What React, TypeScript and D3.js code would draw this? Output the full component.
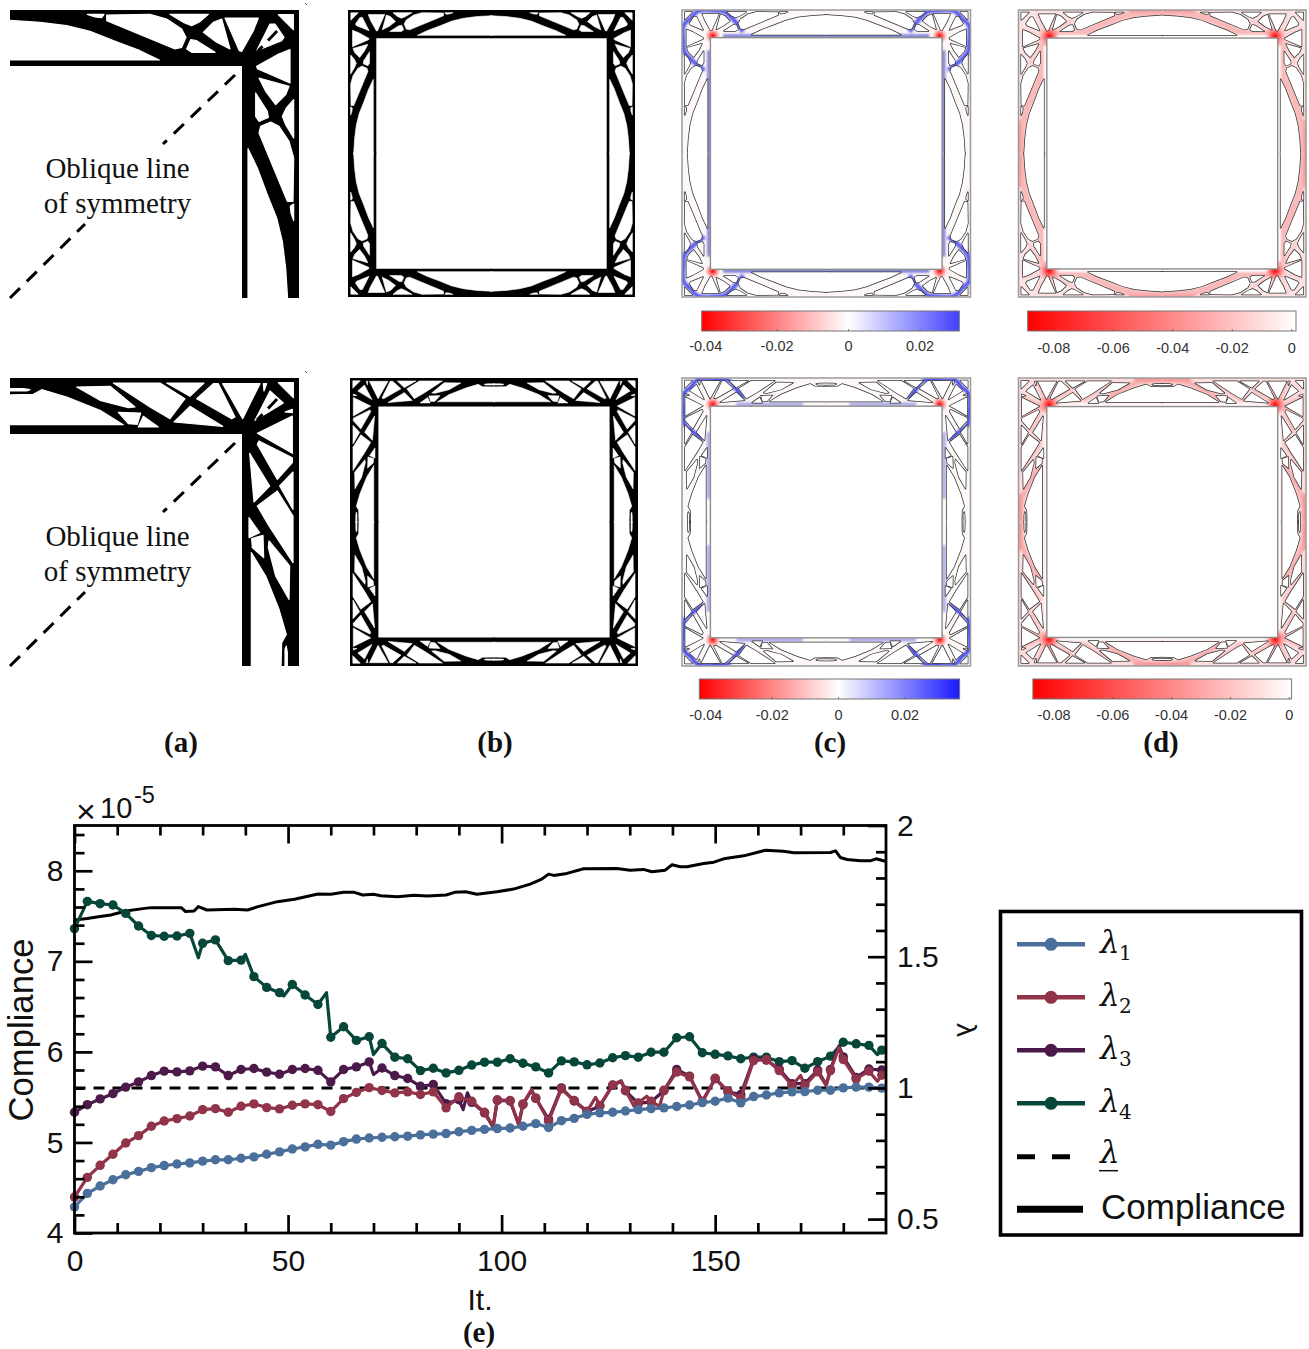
import React, { useEffect, useRef } from 'react';
import * as d3 from 'd3';

// ---- convergence history (e) ----
const markerIters = d3.range(0, 190, 3);
const lambda1 = [0.546, 0.598, 0.626, 0.65, 0.669, 0.682, 0.696, 0.704, 0.71, 0.714, 0.721, 0.726, 0.726, 0.732, 0.737, 0.747, 0.756, 0.767, 0.775, 0.785, 0.782, 0.795, 0.805, 0.809, 0.812, 0.814, 0.816, 0.821, 0.824, 0.826, 0.833, 0.838, 0.842, 0.845, 0.847, 0.854, 0.864, 0.849, 0.875, 0.884, 0.899, 0.905, 0.907, 0.912, 0.917, 0.921, 0.924, 0.929, 0.935, 0.944, 0.949, 0.961, 0.943, 0.967, 0.973, 0.981, 0.985, 0.986, 0.991, 0.991, 1.0, 1.003, 1.003, 0.999];
const lambda2 = [0.584, 0.659, 0.705, 0.747, 0.79, 0.818, 0.854, 0.874, 0.883, 0.893, 0.917, 0.921, 0.907, 0.93, 0.939, 0.925, 0.92, 0.934, 0.939, 0.936, 0.91, 0.959, 0.983, 1.001, 0.99, 0.981, 0.985, 0.975, 0.985, 0.924, 0.966, 0.949, 0.907, 0.955, 0.952, 0.939, 0.962, 0.873, 0.996, 0.952, 0.911, 0.933, 1.011, 0.991, 0.943, 0.949, 0.991, 1.06, 1.042, 0.949, 1.037, 0.987, 0.962, 1.104, 1.108, 1.066, 1.009, 1.009, 1.061, 1.066, 1.108, 1.034, 1.064, 1.048];
const lambda3 = [0.907, 0.936, 0.958, 0.978, 1.003, 1.023, 1.047, 1.064, 1.061, 1.065, 1.083, 1.08, 1.047, 1.07, 1.074, 1.06, 1.052, 1.07, 1.074, 1.067, 1.023, 1.07, 1.08, 1.099, 1.076, 1.047, 1.036, 1.006, 1.013, 0.94, 0.955, 0.945, 0.905, 0.952, 0.95, 0.937, 0.96, 0.88, 1.0, 0.95, 0.909, 0.931, 1.01, 0.989, 0.941, 0.947, 0.989, 1.07, 1.045, 0.947, 1.035, 0.985, 0.975, 1.11, 1.106, 1.072, 1.016, 1.016, 1.068, 1.07, 1.118, 1.04, 1.072, 1.068];
const lambda4 = [1.607, 1.711, 1.702, 1.697, 1.665, 1.617, 1.581, 1.578, 1.579, 1.589, 1.551, 1.564, 1.485, 1.487, 1.424, 1.383, 1.363, 1.394, 1.354, 1.318, 1.193, 1.233, 1.181, 1.195, 1.169, 1.117, 1.111, 1.066, 1.075, 1.057, 1.067, 1.087, 1.098, 1.098, 1.111, 1.094, 1.08, 1.057, 1.103, 1.099, 1.088, 1.095, 1.115, 1.123, 1.117, 1.136, 1.136, 1.191, 1.195, 1.134, 1.128, 1.122, 1.111, 1.117, 1.117, 1.1, 1.104, 1.075, 1.1, 1.121, 1.174, 1.168, 1.162, 1.144];
// spikes between the markers, [iteration, lambda]
const lambda2Spikes = [[98, 0.854], [104, 0.863], [107, 0.994], [122, 0.964], [128, 1.028], [131, 0.93], [134, 0.968], [137, 0.93], [170, 1.047], [176, 1.009], [179, 1.153], [188, 1.025]];
const lambda3Spikes = [[70, 1.051], [91, 0.917], [92, 0.981], [98, 0.85], [104, 0.86], [107, 0.99], [128, 1.024], [176, 1.012], [179, 1.16]];
const lambda4Spikes = [[29, 1.496], [40, 1.509], [49, 1.35], [59, 1.363], [70, 1.127], [188, 1.127]];
const lambdaBar = 1;
const complianceIters = [0, 3, 6, 8.5, 12, 16, 18, 22, 25, 26, 28, 29, 31, 37.5, 40.5, 43, 47.5, 51.5, 57, 60, 63, 65.5, 67.5, 70, 71.7, 75.6, 79.5, 82.6, 87, 89, 91.6, 94.2, 98.9, 102.8, 106.7, 109.4, 111, 112.2, 115.3, 119.2, 127, 130.1, 133.2, 135.2, 138.3, 139.9, 141.8, 143.4, 147.3, 149.7, 152, 156.7, 161.8, 166, 168.4, 177, 178.2, 179.3, 180.9, 184, 186.3, 187.7, 189.8];
const compliance = [7.457, 7.472, 7.494, 7.512, 7.556, 7.582, 7.593, 7.593, 7.593, 7.549, 7.556, 7.604, 7.567, 7.575, 7.567, 7.604, 7.659, 7.685, 7.743, 7.74, 7.762, 7.762, 7.732, 7.74, 7.725, 7.714, 7.729, 7.721, 7.732, 7.762, 7.769, 7.74, 7.769, 7.798, 7.853, 7.908, 7.963, 7.949, 7.971, 8.022, 8.026, 8.007, 8.015, 7.989, 8.007, 8.066, 8.044, 8.044, 8.081, 8.095, 8.132, 8.165, 8.227, 8.216, 8.198, 8.202, 8.22, 8.147, 8.125, 8.11, 8.11, 8.132, 8.106];

const xMajor = [0, 50, 100, 150];
const xMinor = d3.range(0, 190, 10).filter(d => d % 50 !== 0);
const yMajor = [4, 5, 6, 7, 8];
const yMinor = d3.range(4.2, 8.5, 0.2).filter(d => Math.abs(d - Math.round(d)) > 0.01);
const rMajor = [0.5, 1, 1.5, 2];
const rMinor = [0.6, 0.7, 0.8, 0.9, 1.1, 1.2, 1.3, 1.4, 1.6, 1.7, 1.8, 1.9];

const BLUE = '#4a6f9b';
const RED = '#913349';
const PURPLE = '#4b1a4a';
const GREEN = '#07473a';
const SANS = '"Liberation Sans", Arial, sans-serif';
const SERIF = '"Liberation Serif", "Times New Roman", serif';

// ---- layout topologies: solid band minus holes, traced in one quadrant ----
// holes lie above the oblique line and get mirrored across it; "whole" ones straddle it
const bandPoly = [[26, 30], [897, 30], [897, 901], [726, 901], [726, 201], [26, 201]];
const holesRow1 = [
  [[26, 64], [120, 70], [200, 80], [270, 97], [340, 125], [420, 155], [478, 183], [26, 183]],
  [[262, 46], [312, 46], [305, 56], [285, 54]],
  [[320, 48], [450, 46], [500, 60], [545, 90], [558, 115], [545, 145], [525, 150], [320, 65]],
  [[510, 46], [625, 46], [600, 68], [575, 80], [550, 70]],
  [[572, 122], [590, 125], [645, 160], [575, 160], [560, 150]],
  [[610, 100], [640, 70], [665, 60], [690, 150], [650, 130]],
  [[675, 57], [775, 57], [760, 95], [725, 157], [718, 155]],
];
const wholeRow1 = [
  [[770, 155], [810, 75], [825, 75], [852, 115], [845, 125]],
  [[835, 47], [880, 47], [880, 92]],
];
const holesRow2 = [
  [[26, 65], [70, 65], [90, 68], [80, 72], [26, 72]],
  [[26, 84], [100, 82], [125, 68], [200, 90], [300, 130], [370, 173], [26, 173]],
  [[230, 60], [330, 58], [405, 120], [385, 122], [300, 100]],
  [[340, 48], [480, 48], [555, 95], [510, 155], [450, 120]],
  [[355, 136], [422, 138], [412, 172], [385, 170]],
  [[430, 148], [475, 180], [415, 180]],
  [[500, 48], [612, 48], [570, 88]],
  [[570, 118], [668, 178], [522, 165]],
  [[590, 95], [640, 50], [655, 50], [705, 150], [695, 155]],
  [[668, 50], [780, 50], [728, 155]],
  [[790, 50], [800, 50], [792, 72]],
];
const wholeRow2 = [
  [[765, 160], [810, 72], [850, 108]],
  [[835, 47], [880, 47], [880, 92]],
];

// stress shading laid under the holes of panels (c) and (d)
type Shade = { p: number[][]; w: number; c: string };
const stressCRow1: Shade[] = [
  { p: [[30, 192], [650, 192]], w: 22, c: '#7f81d8' },
  { p: [[530, 165], [555, 130], [590, 90], [640, 45], [700, 38], [800, 40], [843, 85]], w: 26, c: '#5659ee' },
];
const stressCRow2: Shade[] = [
  { p: [[170, 190], [570, 190]], w: 22, c: '#a8a9ea' },
  { p: [[525, 160], [570, 100], [612, 48], [700, 38], [800, 40], [843, 88]], w: 22, c: '#3d41ea' },
];
const stressDRow1: Shade[] = [
  { p: [[30, 45], [120, 48], [210, 58], [300, 80], [400, 122], [510, 170], [640, 175], [700, 180]], w: 44, c: '#f9b9b9' },
  { p: [[30, 38], [230, 38]], w: 18, c: '#f89a9a' },
  { p: [[565, 90], [735, 180]], w: 18, c: '#fbc8c8' },
  { p: [[670, 48], [715, 165]], w: 16, c: '#fbd0d0' },
  { p: [[790, 45], [745, 170]], w: 14, c: '#fbd0d0' },
  { p: [[30, 192], [680, 192]], w: 18, c: '#ffffff' },
];
const stressDRow2: Shade[] = [
  { p: [[30, 42], [130, 45], [200, 62], [300, 112], [380, 158]], w: 30, c: '#f8b0b0' },
  { p: [[30, 38], [200, 38]], w: 18, c: '#f79090' },
  { p: [[335, 48], [420, 105], [505, 165]], w: 16, c: '#f9b8b8' },
  { p: [[570, 100], [725, 175]], w: 14, c: '#fab8b8' },
  { p: [[660, 48], [728, 170]], w: 16, c: '#fab8b8' },
  { p: [[785, 45], [738, 170]], w: 14, c: '#fab8b8' },
  { p: [[30, 192], [680, 192]], w: 18, c: '#ffffff' },
];

const topoDomain = [30, 897];
const mirrorPts = (pts: number[][]) => pts.map(([x, y]) => [927 - y, 927 - x]);
const allHoles = (half: number[][][], whole: number[][][]) => half.concat(half.map(mirrorPts)).concat(whole);

function topoLine(half: number) {
  const xs = d3.scaleLinear().domain(topoDomain).range([0, half]);
  const ys = d3.scaleLinear().domain(topoDomain).range([-half, 0]);
  return d3.line<number[]>().x(d => xs(d[0])).y(d => ys(d[1]));
}
const polyPath = (half: number, pts: number[][]) => (topoLine(half).curve(d3.curveLinearClosed)(pts) || '');
const openPath = (half: number, pts: number[][]) => (topoLine(half).curve(pts.length > 2 ? d3.curveCatmullRom : d3.curveLinear)(pts) || '');

const FLIPS = [[1, 1], [-1, 1], [1, -1], [-1, -1]];

function Flipped({ cx, cy, render }: { cx: number; cy: number; render: () => React.ReactNode }) {
  return (
    <g>
      {FLIPS.map(([sx, sy], i) => <g key={i} transform={`translate(${cx},${cy}) scale(${sx},${sy})`}>{render()}</g>)}
    </g>
  );
}

function BlackFrame({ x0, x1, y0, y1, holes }: { x0: number; x1: number; y0: number; y1: number; holes: number[][][] }) {
  const cx = (x0 + x1) / 2;
  const cy = (y0 + y1) / 2;
  const half = (x1 - x0) / 2;
  return (
    <g>
      <Flipped cx={cx} cy={cy} render={() => <path d={polyPath(half, bandPoly)} fill="#000" />} />
      <Flipped cx={cx} cy={cy} render={() => holes.map((h, i) => <path key={i} d={polyPath(half, h)} fill="#fff" stroke="#fff" strokeWidth={0.6} strokeLinejoin="round" />)} />
    </g>
  );
}

function StressFrame({ x0, x1, y0, y1, holes, base, shades, glow }: any) {
  const cx = (x0 + x1) / 2;
  const cy = (y0 + y1) / 2;
  const half = (x1 - x0) / 2;
  const k = half / (topoDomain[1] - topoDomain[0]);
  const node = [(712 - 30) * k, (190 - 897) * k];
  const inner = half * 0.803;
  const clipId = `frame${Math.round(x0)}-${y0}`;
  return (
    <g>
      <clipPath id={clipId}><rect x={x0} y={y0} width={x1 - x0} height={y1 - y0} /></clipPath>
      <g clipPath={`url(#${clipId})`}>
        <Flipped cx={cx} cy={cy} render={() => <path d={polyPath(half, bandPoly)} fill={base} />} />
        <Flipped cx={cx} cy={cy} render={() => (
          <g fill="none" filter="url(#soft)" strokeLinejoin="round">
            {shades.concat(shades.map((s: Shade) => ({ ...s, p: mirrorPts(s.p) }))).map((s: Shade, i: number) => (
              <path key={i} d={openPath(half, s.p)} stroke={s.c} strokeWidth={s.w * k} />
            ))}
          </g>
        )} />
        <Flipped cx={cx} cy={cy} render={() => <circle cx={node[0]} cy={node[1]} r={glow} fill="url(#hotspot)" />} />
        <Flipped cx={cx} cy={cy} render={() => holes.map((h: number[][], i: number) => <path key={i} d={polyPath(half, h)} fill="none" stroke="#333" strokeWidth={1.5} strokeLinejoin="round" />)} />
        <Flipped cx={cx} cy={cy} render={() => holes.map((h: number[][], i: number) => <path key={i} d={polyPath(half, h)} fill="#fff" />)} />
      </g>
      <rect x={cx - inner} y={cy - inner} width={inner * 2} height={inner * 2} fill="#fff" stroke="#8d8d8d" strokeWidth={1.4} />
      <rect x={x0} y={y0} width={x1 - x0} height={y1 - y0} fill="none" stroke="#9a9a9a" strokeWidth={1.5} />
    </g>
  );
}

function QuarterPanel({ y0, holes, lines }: { y0: number; holes: number[][][]; lines: number[] }) {
  const half = 289;
  const clipId = 'quarter' + y0;
  const oblique = d3.line();
  const lowLine: [number, number][] = [[10, y0 + 288], [85, y0 + 214]];
  const highLine: [number, number][] = [[235, y0 + 65], [163, y0 + 134]];
  const cornerLine: [number, number][] = [[257, y0 + 42], [280, y0 + 18]];
  return (
    <g>
      <clipPath id={clipId}><rect x={0} y={-288} width={289} height={288} /></clipPath>
      <g transform={`translate(10,${y0 + 288})`} clipPath={`url(#${clipId})`}>
        <path d={polyPath(half, bandPoly)} fill="#000" />
        {holes.map((h, i) => <path key={i} d={polyPath(half, h)} fill="#fff" stroke="#fff" strokeWidth={1.2} strokeLinejoin="round" />)}
      </g>
      <path d={oblique(lowLine) || ''} fill="none" stroke="#000" strokeWidth={3} strokeDasharray="14 9.6" />
      <path d={oblique(highLine) || ''} fill="none" stroke="#000" strokeWidth={3} strokeDasharray="14 9.6" />
      <path d={oblique(cornerLine) || ''} fill="none" stroke="#000" strokeWidth={3} strokeDasharray="8 8 13" />
      <line x1={305} x2={307} y1={y0 - 7} y2={y0 - 5} stroke="#555" strokeWidth={1} />
      <g fontFamily={SERIF} fontSize={29} textAnchor="middle" fill="#111">
        <text x={117.5} y={lines[0]}>Oblique line</text>
        <text x={117.5} y={lines[1]}>of symmetry</text>
      </g>
    </g>
  );
}

function ColorBar({ x0, x1, y0, ticks, ticksAt, gradient, labelY }: any) {
  const scale = d3.scaleLinear().domain([ticks[0], ticks[ticks.length - 1]]).range([ticksAt[0], ticksAt[1]]);
  return (
    <g>
      <rect x={x0} y={y0} width={x1 - x0} height={20} fill={`url(#${gradient})`} stroke="#777" strokeWidth={1} />
      {ticks.map((t: number) => (
        <g key={t}>
          <line x1={scale(t)} x2={scale(t)} y1={y0 + 20} y2={y0 + 18} stroke="#555" strokeWidth={0.8} />
          <text x={scale(t)} y={labelY} textAnchor="middle" fontFamily={SANS} fontSize={14.5} fill="#333">{t}</text>
        </g>
      ))}
    </g>
  );
}

function PanelLabel({ x, y, children }: { x: number; y: number; children: string }) {
  return <text x={x} y={y} textAnchor="middle" fontFamily={SERIF} fontWeight="bold" fontSize={29} fill="#111">{children}</text>;
}

const box = { left: 74.5, right: 886, top: 825.5, bottom: 1233 };
const xScale = d3.scaleLinear().domain([0, 190]).range([box.left, box.right]);
const yLeft = d3.scaleLinear().domain([4, 8.5]).range([box.bottom, box.top]);
const yRight = d3.scaleLinear().domain([0.447, 2]).range([box.bottom, box.top]);

function withSpikes(values: number[], spikes: number[][]) {
  const pts = values.map((v, i) => [markerIters[i], v]).concat(spikes);
  return pts.sort((a, b) => a[0] - b[0]);
}

const lambdaLine = d3.line<number[]>().x(d => xScale(d[0])).y(d => yRight(d[1]));
const complianceLine = d3.line<number>().x((_, i) => xScale(complianceIters[i])).y(d => yLeft(d));

const seriesList = [
  { values: lambda4, spikes: lambda4Spikes, color: GREEN },
  { values: lambda3, spikes: lambda3Spikes, color: PURPLE },
  { values: lambda2, spikes: lambda2Spikes, color: RED },
  { values: lambda1, spikes: [] as number[][], color: BLUE },
];

const legendRows = [
  { sub: '1', color: BLUE, y: 944.3 },
  { sub: '2', color: RED, y: 997.3 },
  { sub: '3', color: PURPLE, y: 1050.3 },
  { sub: '4', color: GREEN, y: 1103.3 },
];

function Legend() {
  return (
    <g>
      <rect x={1000.5} y={911.5} width={301} height={323.5} fill="#fff" stroke="#000" strokeWidth={3.6} />
      {legendRows.map(r => (
        <g key={r.sub}>
          <line x1={1017} x2={1085} y1={r.y} y2={r.y} stroke={r.color} strokeWidth={4.5} />
          <circle cx={1051} cy={r.y} r={6.5} fill={r.color} />
          <text x={1100} y={r.y + 9} fontFamily={'"DejaVu Serif", serif'} fontStyle="italic" fontSize={31} fill="#111">λ</text>
          <text x={1119} y={r.y + 16} fontFamily={'"DejaVu Serif", serif'} fontSize={20} fill="#111">{r.sub}</text>
        </g>
      ))}
      <line x1={1017} x2={1083} y1={1156.7} y2={1156.7} stroke="#000" strokeWidth={5} strokeDasharray="18 17" />
      <text x={1100} y={1163} fontFamily={'"DejaVu Serif", serif'} fontStyle="italic" fontSize={31} fill="#111">λ</text>
      <line x1={1099} x2={1118} y1={1170.7} y2={1170.7} stroke="#111" strokeWidth={1.5} />
      <line x1={1017} x2={1083} y1={1209.3} y2={1209.3} stroke="#000" strokeWidth={7} />
      <text x={1101} y={1219} fontFamily={SANS} fontSize={35} fill="#111">Compliance</text>
    </g>
  );
}

export default function App() {
  const axesRef = useRef<SVGGElement>(null);

  useEffect(() => {
    const g = d3.select(axesRef.current);
    g.selectAll('*').remove();
    const fmt = (d: any) => String(d);
    const bottom = `translate(0,${box.bottom})`;
    const top = `translate(0,${box.top})`;
    const left = `translate(${box.left},0)`;
    const right = `translate(${box.right},0)`;
    const axes = [
      [d3.axisBottom(xScale).tickValues(xMajor).tickSize(-18).tickPadding(17).tickFormat(fmt), bottom],
      [d3.axisBottom(xScale).tickValues(xMinor).tickSize(-10).tickFormat(() => ''), bottom],
      [d3.axisTop(xScale).tickValues(xMajor).tickSize(-18).tickFormat(() => ''), top],
      [d3.axisTop(xScale).tickValues(xMinor).tickSize(-10).tickFormat(() => ''), top],
      [d3.axisLeft(yLeft).tickValues(yMajor).tickSize(-18).tickPadding(11).tickFormat(fmt), left],
      [d3.axisLeft(yLeft).tickValues(yMinor).tickSize(-10).tickFormat(() => ''), left],
      [d3.axisRight(yRight).tickValues(rMajor).tickSize(-18).tickPadding(11).tickFormat(fmt), right],
      [d3.axisRight(yRight).tickValues(rMinor).tickSize(-10).tickFormat(() => ''), right],
    ] as [any, string][];
    axes.forEach(([axis, tr]) => {
      const a = g.append('g').attr('transform', tr).call(axis);
      a.select('.domain').remove();
      a.selectAll('line').attr('stroke', '#000').attr('stroke-width', 2.7);
      a.selectAll('text').attr('font-family', SANS).attr('font-size', 30).attr('fill', '#111');
    });
  }, []);

  const holes1 = allHoles(holesRow1, wholeRow1);
  const holes2 = allHoles(holesRow2, wholeRow2);

  return (
    <svg width={1309} height={1349} style={{ position: 'absolute', left: 0, top: 0, background: '#fff' }}>
      <defs>
        <filter id="soft" x="-20%" y="-20%" width="140%" height="140%"><feGaussianBlur stdDeviation="0.9" /></filter>
        <radialGradient id="hotspot">
          <stop offset="0%" stopColor="#ff0000" />
          <stop offset="35%" stopColor="#ff3030" stopOpacity={0.75} />
          <stop offset="100%" stopColor="#ff8080" stopOpacity={0} />
        </radialGradient>
        <linearGradient id="barDiv1">
          <stop offset="0%" stopColor="#ff0000" />
          <stop offset="57%" stopColor="#ffffff" />
          <stop offset="100%" stopColor="#4040ff" />
        </linearGradient>
        <linearGradient id="barDiv2">
          <stop offset="0%" stopColor="#ff0000" />
          <stop offset="53.5%" stopColor="#ffffff" />
          <stop offset="100%" stopColor="#1a1aff" />
        </linearGradient>
        <linearGradient id="barNeg">
          <stop offset="0%" stopColor="#ff0000" />
          <stop offset="100%" stopColor="#ffffff" />
        </linearGradient>
      </defs>

      {/* top row */}
      <QuarterPanel y0={10} holes={holes1} lines={[178, 213]} />
      <BlackFrame x0={348} x1={635} y0={10} y1={297} holes={holes1} />
      <StressFrame x0={682} x1={970.5} y0={10} y1={297} holes={holes1} base="#fef7f7" shades={stressCRow1} glow={8} />
      <StressFrame x0={1018.5} x1={1306} y0={10} y1={297} holes={holes1} base="#fde4e4" shades={stressDRow1} glow={11} />
      <ColorBar x0={701.7} x1={959.3} y0={311} ticks={[-0.04, -0.02, 0, 0.02]} ticksAt={[705.7, 920]} gradient="barDiv1" labelY={351} />
      <ColorBar x0={1027.7} x1={1296} y0={311} ticks={[-0.08, -0.06, -0.04, -0.02, 0]} ticksAt={[1053.7, 1291.7]} gradient="barNeg" labelY={352.5} />

      {/* second row */}
      <QuarterPanel y0={378} holes={holes2} lines={[546, 581]} />
      <BlackFrame x0={350} x1={638} y0={378} y1={666} holes={holes2} />
      <StressFrame x0={682} x1={970.5} y0={378} y1={666} holes={holes2} base="#fef7f7" shades={stressCRow2} glow={8} />
      <StressFrame x0={1018.5} x1={1306} y0={378} y1={666} holes={holes2} base="#fcdcdc" shades={stressDRow2} glow={11} />
      <ColorBar x0={699.3} x1={959.6} y0={679} ticks={[-0.04, -0.02, 0, 0.02]} ticksAt={[705.8, 905]} gradient="barDiv2" labelY={720} />
      <ColorBar x0={1032.9} x1={1291.6} y0={679} ticks={[-0.08, -0.06, -0.04, -0.02, 0]} ticksAt={[1054.1, 1289.2]} gradient="barNeg" labelY={720} />

      <PanelLabel x={181} y={752}>(a)</PanelLabel>
      <PanelLabel x={495} y={752}>(b)</PanelLabel>
      <PanelLabel x={830} y={752}>(c)</PanelLabel>
      <PanelLabel x={1161} y={752}>(d)</PanelLabel>

      {/* convergence plot */}
      <line x1={xScale(0)} x2={xScale(190)} y1={yRight(lambdaBar)} y2={yRight(lambdaBar)} stroke="#000" strokeWidth={3} strokeDasharray="11 8" />
      <path d={complianceLine(compliance) || ''} fill="none" stroke="#000" strokeWidth={3} strokeLinejoin="round" />
      {seriesList.map(s => (
        <g key={s.color}>
          <path d={lambdaLine(withSpikes(s.values, s.spikes)) || ''} fill="none" stroke={s.color} strokeWidth={3.2} strokeLinejoin="round" />
          {s.values.map((v, i) => <circle key={i} cx={xScale(markerIters[i])} cy={yRight(v)} r={4.7} fill={s.color} />)}
        </g>
      ))}
      <rect x={box.left} y={box.top} width={box.right - box.left} height={box.bottom - box.top} fill="none" stroke="#000" strokeWidth={2.8} />
      <g ref={axesRef} />

      <text transform="translate(33,1030) rotate(-90)" textAnchor="middle" fontFamily={SANS} fontSize={34.7} fill="#111">Compliance</text>
      <text transform="translate(957,1030) rotate(90)" textAnchor="middle" fontFamily={SANS} fontSize={28} fill="#111">λ</text>
      <text x={480} y={1310} textAnchor="middle" fontFamily={SANS} fontSize={30} fill="#111">It.</text>
      <text x={76} y={823} fontFamily={SANS} fontSize={34} fill="#111">×</text>
      <text x={100} y={818} fontFamily={SANS} fontSize={29} fill="#111">10</text>
      <text x={134} y={803} fontFamily={SANS} fontSize={23.5} fill="#111">-5</text>
      <PanelLabel x={479} y={1342}>(e)</PanelLabel>

      <Legend />
    </svg>
  );
}
